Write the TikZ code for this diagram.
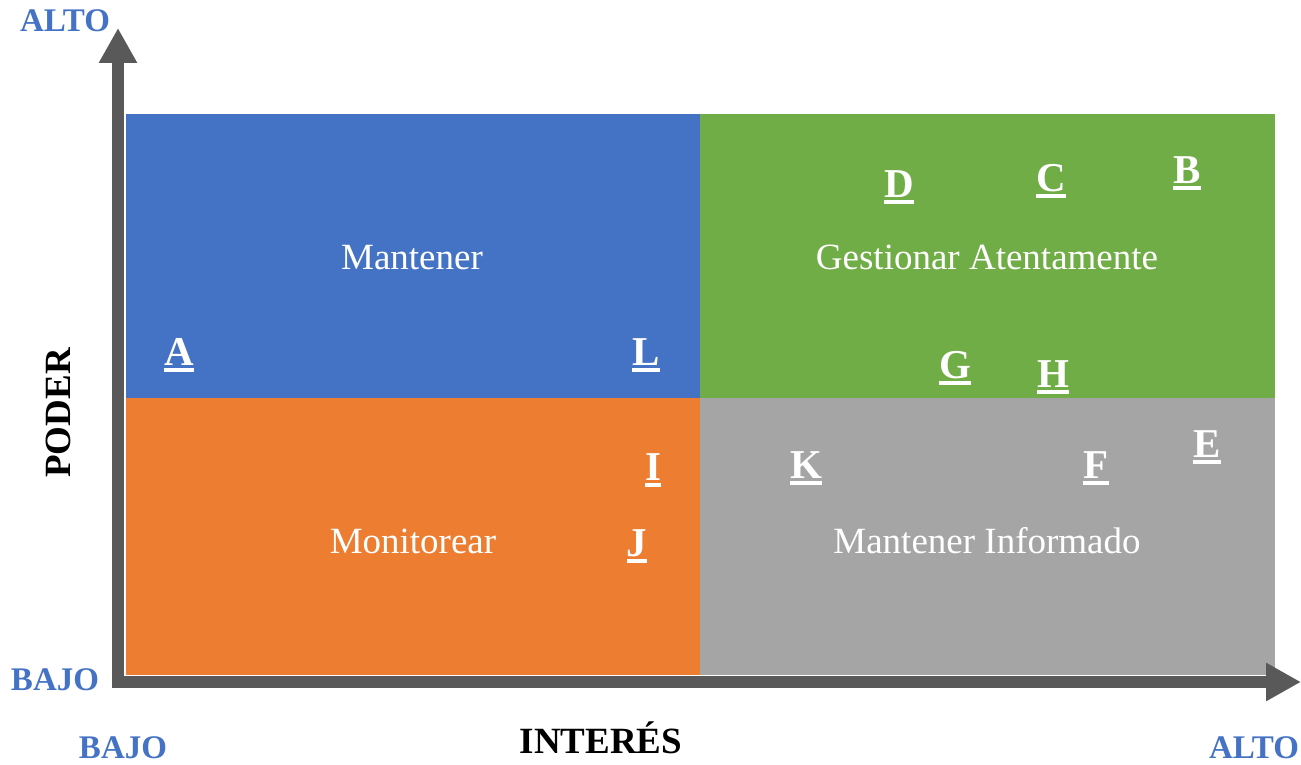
\documentclass[tikz,border=0pt]{standalone}
\usepackage{fontspec}
\setmainfont{Liberation Serif}
\usepackage{xcolor}
\usetikzlibrary{arrows.meta}

\definecolor{qblue}{HTML}{4472C4}
\definecolor{qgreen}{HTML}{70AD47}
\definecolor{qorange}{HTML}{ED7D31}
\definecolor{qgray}{HTML}{A5A5A5}
\definecolor{axisgray}{HTML}{595959}

\newsavebox\letterbox
\newcommand\ulletter[1]{\sbox\letterbox{#1}\usebox\letterbox\llap{\rule[-7pt]{\wd\letterbox}{4pt}}}

\begin{document}
\begin{tikzpicture}[x=1pt,y=-1pt,
  axis/.style={draw=axisgray,line width=12pt,line join=miter,
    {Triangle[width=36pt,length=35pt]}-{Triangle[width=36pt,length=35pt]}},
  quadlabel/.style={anchor=base,inner sep=0pt,text=white,font=\fontsize{37}{41}\selectfont},
  stake/.style={anchor=base,inner sep=0pt,text=white,font=\fontsize{41}{45}\selectfont\bfseries},
  axistitle/.style={anchor=base,inner sep=0pt,font=\fontsize{37}{42}\selectfont\bfseries},
  level/.style={anchor=base,inner sep=0pt,text=qblue,font=\fontsize{33}{37}\selectfont\bfseries}]
  \useasboundingbox (0,0) rectangle (1301,765);

  % Quadrants
  \fill[qblue] (126,114) rectangle (700,398);
  \fill[qgreen] (700,114) rectangle (1275,398);
  \fill[qorange] (126,398) rectangle (700,675);
  \fill[qgray] (700,398) rectangle (1275,675);

  \node[quadlabel] (mantener) at (412,269) {Mantener};
  \node[quadlabel] (gestionar) at (987,269) {Gestionar Atentamente};
  \node[quadlabel] (monitorear) at (413,553) {Monitorear};
  \node[quadlabel] (informado) at (987,553) {Mantener Informado};

  % Axes
  \coordinate (ytip) at (118,28);
  \coordinate (xtip) at (1301,682);
  \draw[axis] (ytip) |- (xtip);

  \node[axistitle,rotate=90] (poder) at (70,413) {PODER};
  \node[axistitle] (interes) at (601,753) {INTERÉS};

  \node[level] (ytop) at (65,32) {ALTO};
  \node[level] (ybottom) at (55,690) {BAJO};
  \node[level] (xleft) at (123,758) {BAJO};
  \node[level] (xright) at (1254,758) {ALTO};

  % Stakeholders
  \node[stake] (a) at (179,365) {\ulletter{A}};
  \node[stake] (l) at (646,365) {\ulletter{L}};
  \node[stake] (d) at (899,197) {\ulletter{D}};
  \node[stake] (c) at (1051,191) {\ulletter{C}};
  \node[stake] (b) at (1187,183) {\ulletter{B}};
  \node[stake] (g) at (955,378) {\ulletter{G}};
  \node[stake] (h) at (1053,387) {\ulletter{H}};
  \node[stake] (i) at (653,480) {\ulletter{I}};
  \node[stake] (j) at (637,556) {\ulletter{J}};
  \node[stake] (k) at (806,478) {\ulletter{K}};
  \node[stake] (f) at (1096,478) {\ulletter{F}};
  \node[stake] (e) at (1207,457) {\ulletter{E}};
\end{tikzpicture}
\end{document}
